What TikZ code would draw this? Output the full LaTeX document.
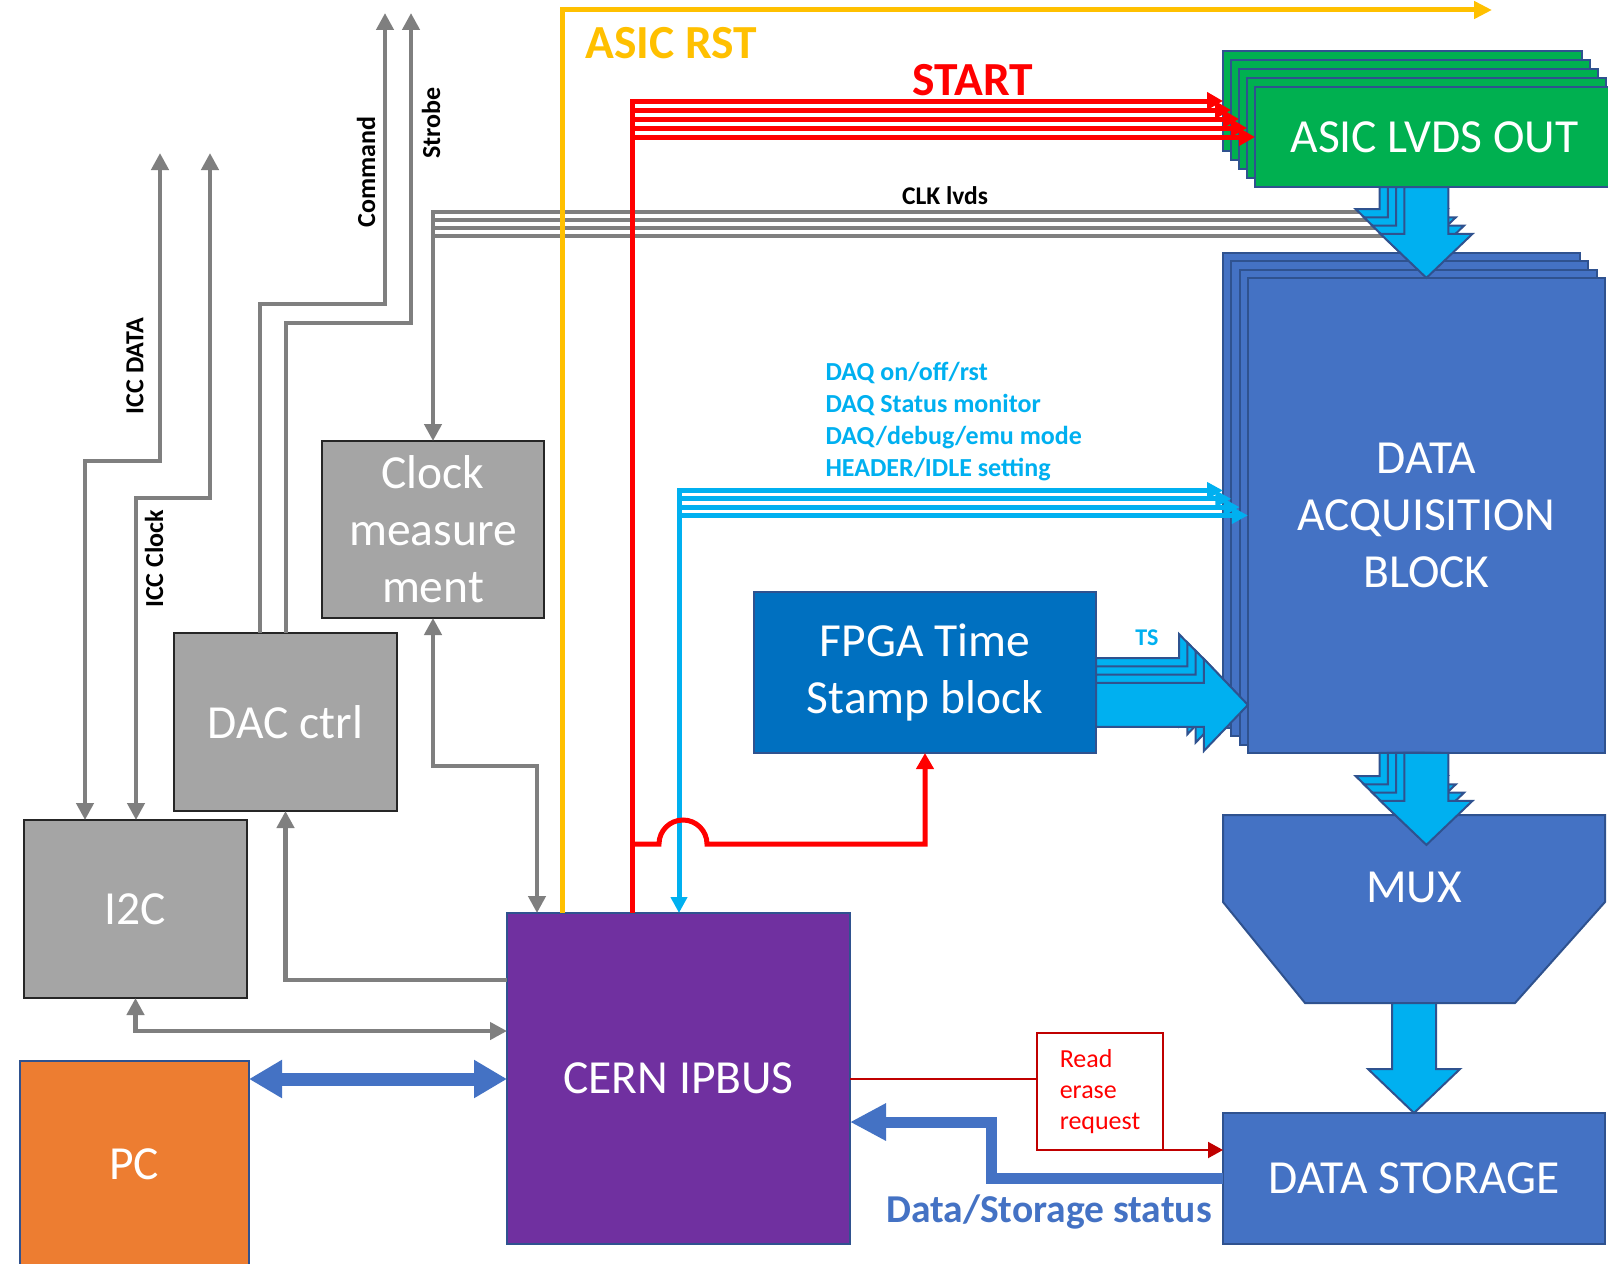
\documentclass[tikz,border=0pt]{standalone}
\usepackage{fontspec}
\setmainfont{Carlito}
\usetikzlibrary{arrows.meta,calc}

\definecolor{boxgray}{HTML}{A5A5A5}
\definecolor{boxline}{HTML}{262626}
\definecolor{edgeblue}{HTML}{2F528F}
\definecolor{pcorange}{HTML}{ED7D31}
\definecolor{ipurple}{HTML}{7030A0}
\definecolor{fpgablue}{HTML}{0070C0}
\definecolor{daqblue}{HTML}{4472C4}
\definecolor{asicgreen}{HTML}{00B050}
\definecolor{cyanfill}{HTML}{00B0F0}
\definecolor{sigray}{HTML}{7F7F7F}
\definecolor{rstyellow}{HTML}{FFC000}
\definecolor{startred}{HTML}{FF0000}
\definecolor{reqred}{HTML}{C00000}

\newcommand\boxfont{\fontsize{47.5}{57}\selectfont}

% wide block arrow from #1 to the tip #2
\newcommand\fatarr[2]{%
  \coordinate (fa-s) at (#1);
  \coordinate (fa-t) at (#2);
  \coordinate (fa-b) at ($(fa-t)!44pt!(fa-s)$);
  \draw[fatstyle] ($(fa-s)!22pt!90:(fa-t)$) -- ($(fa-b)!22pt!90:(fa-t)$)
    -- ($(fa-b)!46pt!90:(fa-t)$) -- (fa-t) -- ($(fa-b)!46pt!-90:(fa-t)$)
    -- ($(fa-b)!22pt!-90:(fa-t)$) -- ($(fa-s)!22pt!-90:(fa-t)$) -- cycle;}

\tikzset{
  GTip/.tip={Triangle[length=17pt,width=17pt]},
  RTip/.tip={Triangle[length=16pt,width=17pt]},
  CTip/.tip={Triangle[length=16pt,width=16pt]},
  YTip/.tip={Triangle[length=18pt,width=17pt]},
  PTip/.tip={Triangle[length=33pt,width=36pt]},
  STip/.tip={Triangle[length=36pt,width=35pt]},
  QTip/.tip={Triangle[length=15pt,width=16pt]},
  blk/.style={draw=edgeblue, line width=2pt, text=white, font=\boxfont, align=center,
    inner sep=0pt, outer sep=0pt, anchor=north west},
  graybox/.style={blk, fill=boxgray, draw=boxline, line width=2.5pt},
  sig/.style={draw=sigray, line width=4.5pt},
  startline/.style={draw=startred, line width=5pt},
  daqline/.style={draw=cyanfill, line width=5pt},
  rstline/.style={draw=rstyellow, line width=5pt},
  pcline/.style={draw=daqblue, line width=13pt},
  statusline/.style={draw=daqblue, line width=11pt},
  reqline/.style={draw=reqred, line width=2pt},
  fatstyle/.style={fill=cyanfill, draw=edgeblue, line width=2pt, line join=miter},
  sidelabel/.style={font=\bfseries\fontsize{26}{31}\selectfont, rotate=90},
}

\begin{document}
\begin{tikzpicture}[x=1pt,y=-1pt,line join=miter]
\useasboundingbox (0,0) rectangle (1608,1263);
\fill[white] (0,0) rectangle (1608,1263);

% ---------- blocks ----------
\node[graybox, minimum width=222pt, minimum height=177pt] (clk) at (322,441) {Clock\\measure\\ment};
\node[graybox, minimum width=223pt, minimum height=178pt] (dac) at (174,633) {DAC ctrl};
\node[graybox, minimum width=223pt, minimum height=178pt] (i2c) at (24,820) {I2C};
\node[blk, fill=pcorange, minimum width=229.5pt, minimum height=207pt] (pc) at (19.5,1061) {PC};
\node[blk, fill=ipurple, minimum width=343pt, minimum height=331pt] (ipbus) at (507,913) {CERN IPBUS};
\node[blk, fill=fpgablue, minimum width=342pt, minimum height=161pt] (fpga) at (754,592) {FPGA Time\\Stamp block};

% stacked acquisition blocks
\foreach \k in {0,1,2}
  \node[blk, fill=daqblue, minimum width=357pt, minimum height=475pt] (daq\k) at ({1223+8.3*\k},{253+8.3*\k}) {};
\node[blk, fill=daqblue, minimum width=357pt, minimum height=475pt] (daq3) at (1247.9,277.9) {DATA\\ACQUISITION\\BLOCK};

% stacked LVDS outputs
\foreach \k in {0,...,3}
  \node[blk, fill=asicgreen, minimum width=359pt, minimum height=100pt] (asic\k) at ({1223+8*\k},{51+9*\k}) {};
\node[blk, fill=asicgreen, minimum width=359pt, minimum height=100pt] (asic4) at (1255,87) {ASIC LVDS OUT};

% multiplexer
\node[minimum width=382pt, minimum height=188pt, anchor=north west, inner sep=0pt, outer sep=0pt] (mux) at (1223,815) {};
\draw[fill=daqblue, draw=edgeblue, line width=2pt] (mux.north west) -- (mux.north east)
  -- ($(mux.north east)+(0,87)$) -- ($(mux.south east)+(-90,0)$)
  -- ($(mux.south west)+(82,0)$) -- ($(mux.north west)+(0,87)$) -- cycle;
\node[text=white, font=\boxfont] (muxtext) at (1414,887) {MUX};

\node[blk, fill=daqblue, minimum width=382pt, minimum height=131pt] (store) at (1223,1113) {DATA STORAGE};

\node[draw=reqred, line width=2pt, fill=white, minimum width=126pt, minimum height=117pt,
  anchor=north west, inner sep=0pt, outer sep=0pt, align=left, text=startred,
  font=\fontsize{26}{31}\selectfont] (req) at (1037,1033) {Read\\erase\\request};

% ---------- helper coordinates ----------
\coordinate (clkR0) at (1400,212);
\coordinate (clkR1) at (1400,220);
\coordinate (clkR2) at (1400,228);
\coordinate (clkR3) at (1400,236);
\coordinate (cmdX) at (260,304);
\coordinate (cmdTop) at (385,13);
\coordinate (strX) at (286,323);
\coordinate (strTop) at (411,13);
\coordinate (iccdX) at (85,461);
\coordinate (iccdTop) at (160,153);
\coordinate (icccX) at (136,498);
\coordinate (icccTop) at (210,153);
\coordinate (dacY) at (0,980);
\coordinate (i2cY) at (0,1031);
\coordinate (cmX) at (537,766);
\coordinate (rstV) at (562,0);
\coordinate (rstEnd) at (1492,10);
\coordinate (startV) at (632,0);
\coordinate (hopY) at (0,844);
\coordinate (daqV) at (679,0);
\coordinate (pcY) at (0,1079);
\coordinate (dsX) at (991,1122);

% ---------- gray control signals ----------
\draw[sig,{GTip}-] (clk.north) -- (clk.north |- clkR0) -- (clkR0);
\foreach \k in {1,2,3} \draw[sig] (clk.north |- clkR\k) -- (clkR\k);
\draw[sig,-{GTip}] (dac.north -| cmdX) -- (cmdX) -| (cmdTop);
\draw[sig,-{GTip}] (dac.north -| strX) -- (strX) -| (strTop);
\draw[sig,{GTip}-{GTip}] (i2c.north -| iccdX) -- (iccdX) -| (iccdTop);
\draw[sig,{GTip}-{GTip}] (i2c.north -| icccX) -- (icccX) -| (icccTop);
\draw[sig,-{GTip}] (ipbus.west |- dacY) -| (dac.south);
\draw[sig,{GTip}-{GTip}] (i2c.south) |- (ipbus.west |- i2cY);
\draw[sig,{GTip}-{GTip}] (clk.south) |- (cmX) -- (ipbus.north -| cmX);

% ---------- reset, start and DAQ control ----------
\draw[rstline,-{YTip}] (ipbus.north -| rstV) |- (rstEnd);

\draw[startline,-{RTip}] (ipbus.north -| startV) -- (startV |- asic0.west) -- (asic0.west);
\foreach \k in {1,...,4} \draw[startline,-{RTip}] (startV |- asic\k.west) -- (asic\k.west);

\draw[daqline,{CTip}-{CTip}] (ipbus.north -| daqV) -- (daqV |- daq0.west) -- (daq0.west);
\foreach \k in {1,2,3} \draw[daqline,-{CTip}] (daqV |- daq\k.west) -- (daq\k.west);

\draw[startline,-{RTip}] (startV |- hopY) -- ++(27,0) arc[start angle=180,end angle=0,radius=24pt]
  -- (fpga.south |- hopY) -- (fpga.south);

% ---------- PC link, storage status, read request ----------
\draw[pcline,{PTip}-{PTip}] (pc.east |- pcY) -- (ipbus.west |- pcY);
\draw[statusline,-{STip}] (store.west) -| (dsX) -- (ipbus.east |- dsX);
\draw[reqline] (ipbus.east) -- (ipbus.east -| req.west);
\draw[reqline,-{QTip}] (req.south east) -- (req.south east -| store.west);

% ---------- wide data arrows ----------
\foreach \k in {0,...,3} {\fatarr{asic4.south -| daq\k.north}{daq\k.north}}
\foreach \k in {0,...,3} {\fatarr{daq3.south -| daq\k.south}{$(daq\k.south)+(0,92)$}}
\foreach \k in {0,...,3} {
  \coordinate (tsTip) at ($(daq\k.west)+(0,189.5)$);
  \fatarr{fpga.east |- tsTip}{tsTip}}
\fatarr{mux.south}{store.north}

% ---------- labels ----------
\node[font=\bfseries\fontsize{47.5}{56}\selectfont, text=rstyellow] (rstlabel) at (671,43) {ASIC RST};
\node[font=\bfseries\fontsize{47.5}{56}\selectfont, text=startred] (startlabel) at (973,80) {START};
\node[font=\bfseries\fontsize{25.5}{30}\selectfont] (clklabel) at (945,196) {CLK lvds};
\node[sidelabel] (cmdlabel) at (366,172) {Command};
\node[sidelabel] (strlabel) at (431,123) {Strobe};
\node[sidelabel] (iccdlabel) at (135,366) {ICC DATA};
\node[sidelabel] (icclabel) at (154,559) {ICC Clock};
\node[anchor=west, align=left, text=cyanfill, font=\bfseries\fontsize{26}{32}\selectfont]
  (daqlabel) at (822,422) {DAQ on/off/rst\\DAQ Status monitor\\DAQ/debug/emu mode\\HEADER/IDLE setting};
\node[text=cyanfill, font=\bfseries\fontsize{24}{29}\selectfont] (tslabel) at (1147,638) {TS};
\node[text=daqblue, font=\bfseries\fontsize{39.5}{47}\selectfont] (statuslabel) at (1049,1212) {Data/Storage status};
\end{tikzpicture}
\end{document}
